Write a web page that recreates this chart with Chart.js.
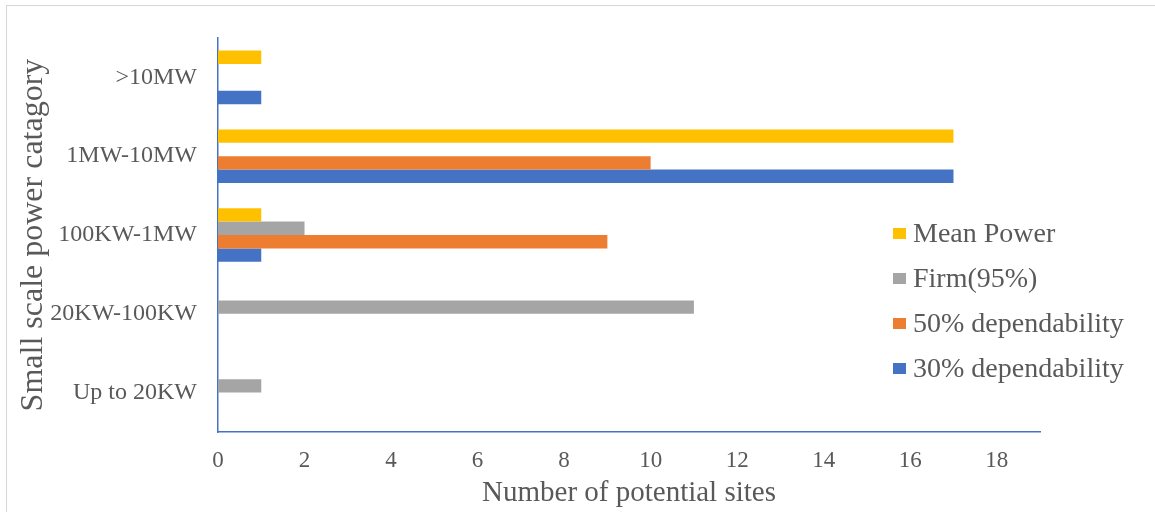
<!DOCTYPE html>
<html>
<head>
<meta charset="utf-8">
<script src="https://cdn.jsdelivr.net/npm/chart.js@4.4.1/dist/chart.umd.min.js"></script>
<style>
  html, body { margin: 0; padding: 0; background: #ffffff; }
  #wrap { position: relative; width: 1155px; height: 512px; overflow: hidden; background: #ffffff; }
  #frame { position: absolute; left: 6px; top: 5px; width: 1200px; height: 600px;
           border-top: 1.5px solid #d6d6d6; border-left: 1.5px solid #d6d6d6; box-sizing: border-box; }
  #chart { position: absolute; left: 0; top: 0; }
  #legend { position: absolute; left: 893px; top: 218px; font-family: "Liberation Serif", "Times New Roman", serif;
            font-size: 28px; color: #595959; }
  .item { position: absolute; left: 0; white-space: nowrap; height: 30px; line-height: 30px; }
  .swatch { position: absolute; left: 0; top: 10px; width: 13px; height: 11px; }
  .txt { position: absolute; left: 20px; top: 0; }
</style>
</head>
<body>
<div id="wrap">
  <div id="frame"></div>
  <canvas id="chart" width="1155" height="512"></canvas>
  <div id="legend"></div>
</div>
<script>
// Power categories, listed top to bottom
const categories = ['>10MW', '1MW-10MW', '100KW-1MW', '20KW-100KW', 'Up to 20KW'];

// Number of potential sites per category for each flow condition
const meanPower = [1, 17, 1, 0, 0];
const firm95    = [0, 0, 2, 11, 1];
const dep50     = [0, 10, 9, 0, 0];
const dep30     = [1, 17, 1, 0, 0];

// X axis tick values
const xTicks = [0, 2, 4, 6, 8, 10, 12, 14, 16, 18];

const seriesNames  = ['Mean Power', 'Firm(95%)', '50% dependability', '30% dependability'];
const seriesColors = ['#FFC000', '#A5A5A5', '#ED7D31', '#4472C4'];
const seriesData   = [meanPower, firm95, dep50, dep30];

const serif = '"Liberation Serif", "Times New Roman", serif';
const textGray = '#595959';
const axisBlue = '#4472C4';

const datasets = seriesNames.map((name, i) => ({
  label: name,
  data: seriesData[i],
  backgroundColor: seriesColors[i],
  borderWidth: 0,
  categoryPercentage: 0.68,
  barPercentage: 1.0
}));

new Chart(document.getElementById('chart'), {
  type: 'bar',
  data: { labels: categories, datasets },
  options: {
    indexAxis: 'y',
    responsive: false,
    animation: false,
    layout: { padding: { left: 0, right: 115, top: 38, bottom: 0 } },
    plugins: { legend: { display: false }, tooltip: { enabled: false } },
    scales: {
      x: {
        min: 0,
        max: 19,
        afterBuildTicks: (scale) => { scale.ticks = xTicks.map(v => ({ value: v })); },
        grid: { display: false, drawTicks: false },
        border: { display: true, color: axisBlue, width: 1.5 },
        ticks: { color: textGray, padding: 15, font: { family: serif, size: 23 } },
        title: {
          display: true,
          text: 'Number of potential sites',
          color: textGray,
          font: { family: serif, size: 29 },
          padding: { top: 0, bottom: 1 }
        },
        afterFit: (scale) => { scale.height = 80; }
      },
      y: {
        grid: { display: false, drawTicks: false },
        border: { display: true, color: axisBlue, width: 1.5 },
        ticks: { color: textGray, padding: 21, font: { family: serif, size: 24 } },
        title: {
          display: true,
          text: 'Small scale power catagory',
          color: textGray,
          font: { family: serif, size: 32 },
          padding: { top: 14, bottom: 0 }
        },
        afterFit: (scale) => { scale.width = 218; }
      }
    }
  }
});

// Legend built from the same series definitions
const legend = document.getElementById('legend');
const rowGap = 45;
seriesNames.forEach((name, i) => {
  const item = document.createElement('div');
  item.className = 'item';
  item.style.top = (i * rowGap) + 'px';
  const sw = document.createElement('span');
  sw.className = 'swatch';
  sw.style.background = seriesColors[i];
  const tx = document.createElement('span');
  tx.className = 'txt';
  tx.textContent = name;
  item.appendChild(sw);
  item.appendChild(tx);
  legend.appendChild(item);
});
</script>
</body>
</html>
